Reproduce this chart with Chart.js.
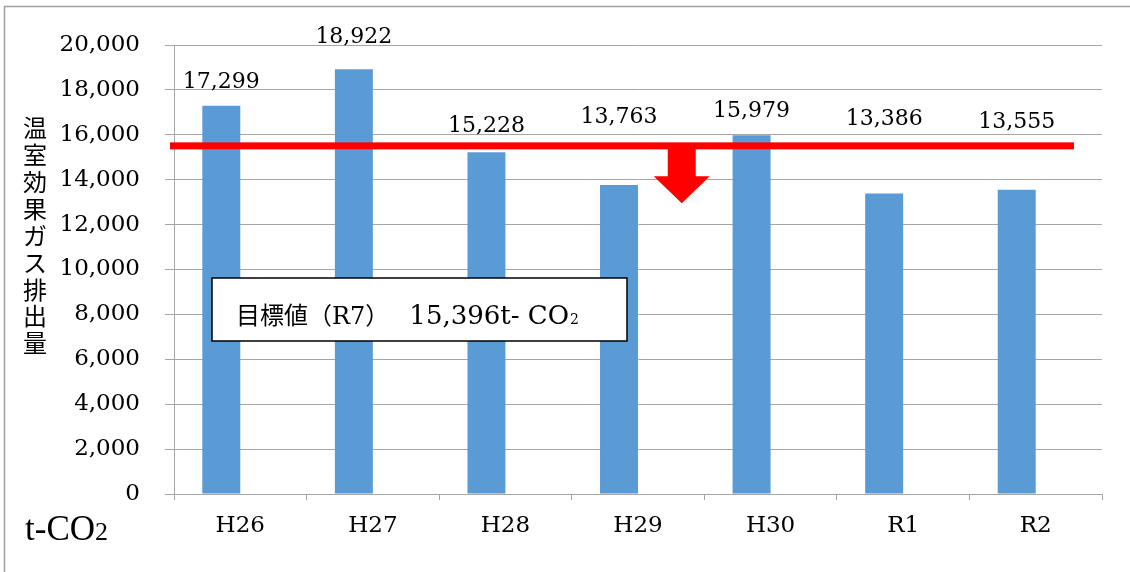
<!DOCTYPE html>
<html>
<head>
<meta charset="utf-8">
<script src="https://cdn.jsdelivr.net/npm/chart.js@4"></script>
<style>
  html, body { margin: 0; padding: 0; background: #fff; }
  #wrap { width: 1130px; height: 572px; }
</style>
</head>
<body>
<div id="wrap"><canvas id="emissionChart" width="1130" height="572"></canvas></div>
<script>
// data
const years = ['H26', 'H27', 'H28', 'H29', 'H30', 'R1', 'R2'];
const emissions = [17299, 18922, 15228, 13763, 15979, 13386, 13555];
const blankSeries = [null, null, null, null, null, null, null]; // empty 2nd series in the original sheet
const target = 15396;
const yTicks = [0, 2000, 4000, 6000, 8000, 10000, 12000, 14000, 16000, 18000, 20000];
const yTitle = '温室効果ガス排出量';
const unitText = 't-CO';
const targetText = '目標値（R7）';
const targetValueText = '15,396t- CO';

// how far each value label sits above its bar top (labels were moved by hand)
const labelLift = [18, 26, 20, 62, 18, 68, 62];

const serif = '"DejaVu Serif", "Noto Sans CJK JP", serif';
const cjk = '"Noto Sans CJK JP", sans-serif';
const gridColor = '#a6a6a6';

const extras = {
    id: 'extras',
    afterDatasetsDraw(chart) {
        const ctx = chart.ctx;
        const area = chart.chartArea;
        const x = chart.scales.x;
        const y = chart.scales.y;
        const yT = y.getPixelForValue(target);

        ctx.save();
        // target line
        ctx.fillStyle = '#ff0000';
        ctx.fillRect(area.left - 4, yT - 6, area.right - 28 - (area.left - 4), 7);

        // down arrow
        const ax = x.getPixelForValue(3.33);
        ctx.beginPath();
        ctx.moveTo(ax - 14, yT);
        ctx.lineTo(ax + 14, yT);
        ctx.lineTo(ax + 14, yT + 28);
        ctx.lineTo(ax + 28, yT + 28);
        ctx.lineTo(ax, yT + 55);
        ctx.lineTo(ax - 28, yT + 28);
        ctx.lineTo(ax - 14, yT + 28);
        ctx.closePath();
        ctx.fill();

        // target box
        const bx = area.left + 38, by = 278, bw = 415, bh = 63;
        ctx.fillStyle = '#fff';
        ctx.fillRect(bx, by, bw, bh);
        ctx.strokeStyle = '#000';
        ctx.lineWidth = 1.5;
        ctx.strokeRect(bx, by, bw, bh);
        ctx.fillStyle = '#000';
        ctx.textBaseline = 'alphabetic';
        ctx.textAlign = 'left';
        let tx = bx + 24;
        const ty = by + 46;
        ctx.font = '24px ' + serif;
        ctx.fillText(targetText, tx, ty);
        tx += ctx.measureText(targetText).width + 20;
        ctx.font = '26px ' + serif;
        ctx.fillText(targetValueText, tx, ty);
        tx += ctx.measureText(targetValueText).width + 1;
        ctx.font = '14px ' + serif;
        ctx.fillText('2', tx, ty);

        // value labels
        const meta = chart.getDatasetMeta(0);
        ctx.font = '22px ' + serif;
        ctx.textAlign = 'center';
        meta.data.forEach((bar, i) => {
            ctx.fillText(emissions[i].toLocaleString('en-US'), bar.x, bar.y - labelLift[i]);
        });
        ctx.restore();
    },
    afterDraw(chart) {
        const ctx = chart.ctx;
        ctx.save();
        // outer frame
        ctx.strokeStyle = '#a0a0a0';
        ctx.lineWidth = 1.5;
        ctx.strokeRect(4.5, 6.5, 1300, 1000);

        // vertical axis title
        ctx.fillStyle = '#000';
        ctx.font = '24px ' + cjk;
        ctx.textAlign = 'center';
        ctx.textBaseline = 'middle';
        Array.from(yTitle).forEach((ch, i) => {
            ctx.fillText(ch, 35, 128 + i * 26.9);
        });

        // unit
        ctx.textAlign = 'left';
        ctx.textBaseline = 'alphabetic';
        ctx.font = '35px "Liberation Serif", serif';
        ctx.fillText(unitText, 25, 540);
        const w = ctx.measureText(unitText).width;
        ctx.font = '26px "Liberation Serif", serif';
        ctx.fillText('2', 25 + w, 540);
        ctx.restore();
    }
};

new Chart(document.getElementById('emissionChart').getContext('2d'), {
    type: 'bar',
    data: {
        labels: years,
        datasets: [{
            label: '温室効果ガス排出量',
            data: emissions,
            backgroundColor: '#5b9bd5',
            categoryPercentage: 0.573,
            barPercentage: 1.0
        }, {
            label: '',
            data: blankSeries,
            backgroundColor: '#ed7d31',
            categoryPercentage: 0.573,
            barPercentage: 1.0
        }]
    },
    options: {
        responsive: false,
        devicePixelRatio: 1,
        animation: false,
        layout: { padding: { top: 45, right: 28, left: 0, bottom: 0 } },
        plugins: {
            legend: { display: false },
            tooltip: { enabled: false }
        },
        scales: {
            x: {
                afterFit: s => { s.height = 78; },
                grid: {
                    drawOnChartArea: false,
                    drawTicks: true,
                    tickLength: 6,
                    color: gridColor,
                    offset: true
                },
                border: { color: gridColor, width: 1 },
                ticks: {
                    color: '#000',
                    font: { family: serif, size: 23 },
                    padding: 12
                }
            },
            y: {
                min: 0,
                max: 20000,
                afterFit: s => { s.width = 174; },
                afterBuildTicks: s => { s.ticks = yTicks.map(v => ({ value: v })); },
                grid: {
                    color: gridColor,
                    lineWidth: 1,
                    tickLength: 9
                },
                border: { color: gridColor, width: 1 },
                ticks: {
                    color: '#000',
                    font: { family: serif, size: 23 },
                    padding: 25,
                    callback: v => v.toLocaleString('en-US')
                }
            }
        }
    },
    plugins: [extras]
});
</script>
</body>
</html>
